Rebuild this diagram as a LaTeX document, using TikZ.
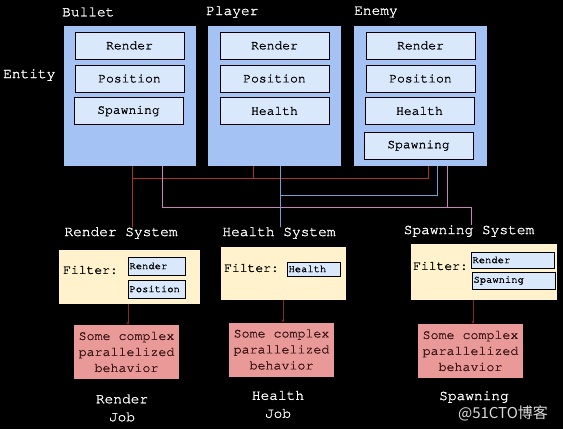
\documentclass[tikz,border=0pt]{standalone}
\usepackage{fontspec}
\usetikzlibrary{arrows.meta}
\setmonofont{texgyrecursor}[Extension=.otf, UprightFont=*-regular, BoldFont=*-bold, FakeBold=1.2]
\newfontfamily\cjkfont{Noto Sans CJK SC}

\definecolor{entityblue}{HTML}{A4C2F4}
\definecolor{compblue}{HTML}{DAE8FC}
\definecolor{filtercream}{HTML}{FFF2CC}
\definecolor{jobred}{HTML}{EA9999}
\definecolor{jobtext}{HTML}{3A1414}
\definecolor{wirered}{HTML}{A83232}
\definecolor{wirepink}{HTML}{C883B8}
\definecolor{wireblue}{HTML}{6FA0D0}

\tikzset{
  whitelbl/.style={text=white, font=\ttfamily\fontsize{14.5}{18}\selectfont, inner sep=0pt},
  entitybox/.style={fill=entityblue, minimum width=133, minimum height=140, inner sep=0pt},
  compbox/.style={draw=black, fill=compblue, line width=0.8pt, minimum width=109, minimum height=27,
    inner sep=0pt, font=\ttfamily\fontsize{13}{15}\selectfont},
  filterbox/.style={fill=filtercream, inner sep=0pt},
  filtercomp/.style={draw=black, fill=compblue, line width=0.8pt, inner sep=0pt, align=left,
    font=\ttfamily\fontsize{10.5}{12}\selectfont},
  filterlabel/.style={anchor=west, inner sep=0pt, font=\ttfamily\fontsize{13}{15}\selectfont},
  jobbox/.style={fill=jobred, text=jobtext, minimum width=105, minimum height=54, inner sep=0pt,
    align=center, font=\ttfamily\fontsize{13.3}{16}\selectfont},
  wire/.style={line width=0.8pt},
  jobarrow/.style={draw=wirered!80!black, line width=0.8pt, -{Stealth[length=3pt,width=3pt]}},
}

\begin{document}
\begin{tikzpicture}[x=1pt, y=-1pt]
  \fill[black] (0,0) rectangle (563,429);
  \useasboundingbox (0,0) rectangle (563,429);

  % entities
  \node[whitelbl, anchor=west] (entitylbl) at (3,75) {Entity};
  \node[entitybox, minimum width=132] (bullet) at (130,96) {};
  \node[entitybox] (player) at (274.5,96) {};
  \node[entitybox] (enemy) at (420.5,96) {};
  \node[whitelbl, anchor=west] (bulletlbl) at (62,12) {Bullet};
  \node[whitelbl, anchor=west] (playerlbl) at (206,12) {Player};
  \node[whitelbl, anchor=west] (enemylbl) at (354,12) {Enemy};

  % components
  \node[compbox] (brender) at (129.5,45.5) {Render};
  \node[compbox] (bpos) at (129.5,78.5) {Position};
  \node[compbox] (bspawn) at (128.5,111) {Spawning};
  \node[compbox] (prender) at (274.5,45.5) {Render};
  \node[compbox] (ppos) at (274.5,78.5) {Position};
  \node[compbox] (phealth) at (274.5,111) {Health};
  \node[compbox] (erender) at (420.5,45.5) {Render};
  \node[compbox] (epos) at (420.5,78.5) {Position};
  \node[compbox] (ehealth) at (419.5,111) {Health};
  \node[compbox] (espawn) at (418.5,145.5) {Spawning};

  % systems
  \node[whitelbl] (rsys) at (121,233) {Render System};
  \node[whitelbl] (hsys) at (279,233) {Health System};
  \node[whitelbl] (ssys) at (469,231) {Spawning System};

  % wires
  \coordinate (rj) at (132,178);
  \coordinate (rk) at (428,178);
  \coordinate (pj) at (162,207);
  \coordinate (pk) at (471,207);
  \coordinate (bj) at (280,195);
  \coordinate (bk) at (437,195);
  \draw[wire, wirered] (bullet.south -| rj) -- (rsys.north -| rj);
  \draw[wire, wirered] (rj) -- (rk) -- (enemy.south -| rk);
  \draw[wire, wirered] (player.south -| 253,0) -- (253,178);
  \draw[wire, wirepink] (bullet.south -| pj) -- (pj) -- (pk) -- (ssys.north -| pk);
  \draw[wire, wirepink] (enemy.south -| 447,0) -- (447,207);
  \draw[wire, wireblue] (player.south -| bj) -- (hsys.north -| bj);
  \draw[wire, wireblue] (bj) -- (bk) -- (enemy.south -| bk);

  % filters
  \node[filterbox, minimum width=141, minimum height=54] (rfilt) at (129.5,277) {};
  \node[filterlabel] (rfiltlbl) at (63,270) {Filter:};
  \node[filtercomp, text width=57, minimum height=18] (rfrender) at (157,266) {\hspace{1pt}Render};
  \node[filtercomp, text width=57, minimum height=18] (rfpos) at (157,289) {\hspace{1pt}Position};

  \node[filterbox, minimum width=125, minimum height=53] (hfilt) at (283.5,273.5) {};
  \node[filterlabel] (hfiltlbl) at (224,268) {Filter:};
  \node[filtercomp, text width=53, minimum height=14] (hfhealth) at (314,269) {\hspace{1pt}Health};

  \node[filterbox, minimum width=146, minimum height=56] (sfilt) at (484,272) {};
  \node[filterlabel] (sfiltlbl) at (413,266) {Filter:};
  \node[filtercomp, text width=83, minimum height=16] (sfrender) at (513,260) {\hspace{1pt}Render};
  \node[filtercomp, text width=83, minimum height=17] (sfspawn) at (514,280.5) {\hspace{1pt}Spawning};

  % jobs
  \node[jobbox] (rjob) at (126.5,352) {Some complex\\parallelized\\behavior};
  \node[jobbox] (hjob) at (281.5,349.5) {Some complex\\parallelized\\behavior};
  \node[jobbox] (sjob) at (470.5,351) {Some complex\\parallelized\\behavior};
  \draw[jobarrow] (rfilt.south -| 128,0) -- (rjob.north -| 128,0);
  \draw[jobarrow] (hfilt.south -| 283,0) -- (hjob.north -| 283,0);
  \draw[jobarrow] (sfilt.south -| 473,0) -- (sjob.north -| 473,0);

  \node[whitelbl, align=center] (rjoblbl) at (122,408) {Render\\Job};
  \node[whitelbl, align=center] (hjoblbl) at (278,404.5) {Health\\Job};
  \node[whitelbl] (sjoblbl) at (474,397) {Spawning};

  \node[text=white, opacity=0.85, inner sep=0pt, font=\cjkfont\fontsize{15}{18}\selectfont] (mark) at (503,413) {@51CTO博客};
\end{tikzpicture}
\end{document}
